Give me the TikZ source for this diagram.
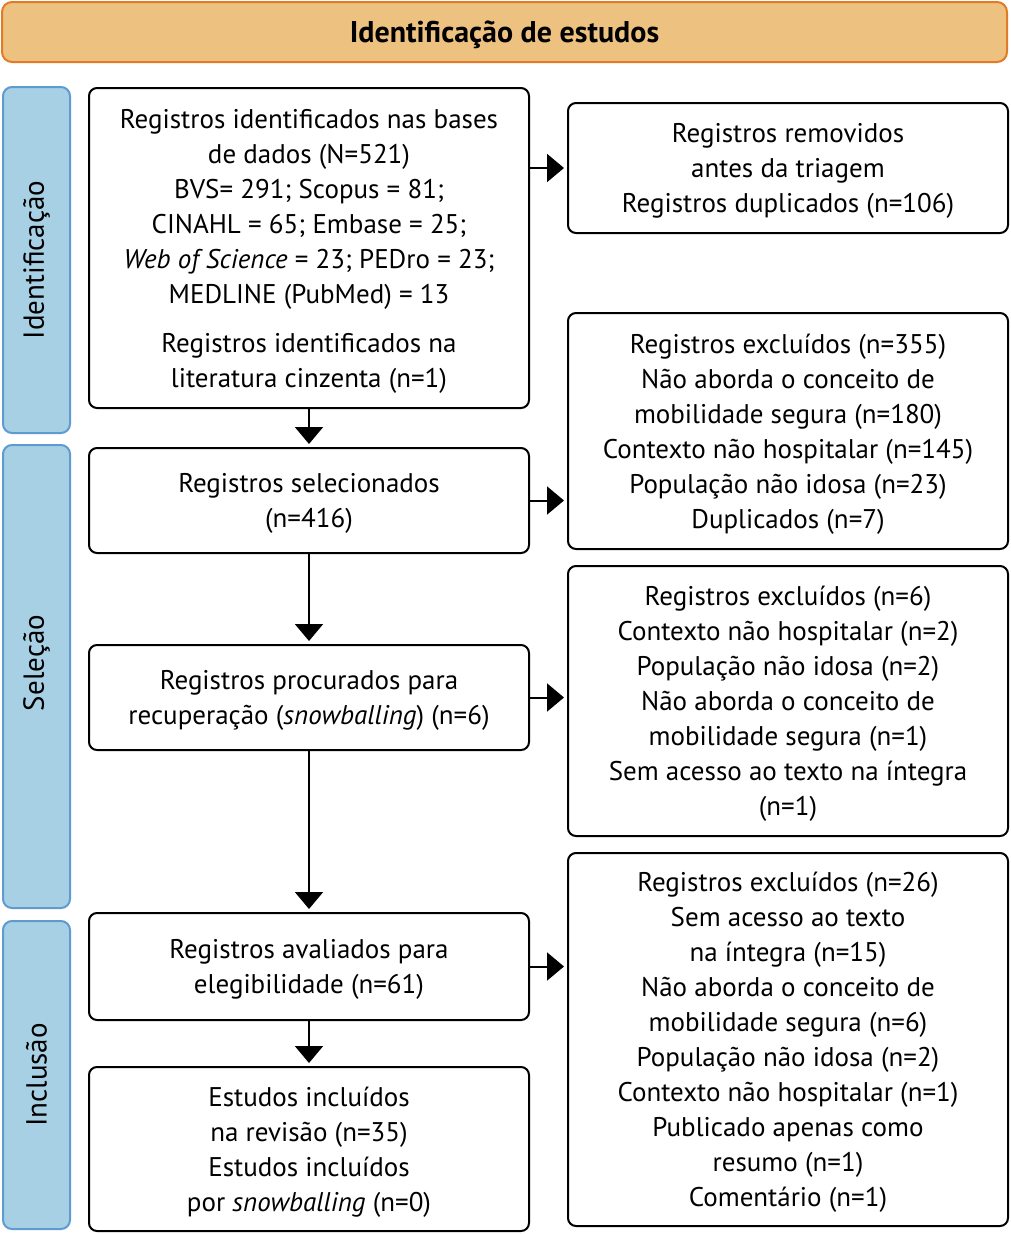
\documentclass[tikz,border=0pt]{standalone}
\usepackage{fontspec}
\setmainfont{PT Sans}
\usetikzlibrary{arrows.meta}
\definecolor{hdrfill}{HTML}{EDC17F}
\definecolor{hdrdraw}{HTML}{E27A26}
\definecolor{sidefill}{HTML}{A8D0E5}
\definecolor{sidedraw}{HTML}{5E9BD0}
\tikzset{
  box/.style={draw=black, line width=2pt, rounded corners=8pt, fill=white, inner sep=0pt},
  txt/.style={align=center, inner sep=0pt, font=\fontsize{27}{35}\selectfont, yshift=-3pt},
  side/.style={draw=sidedraw, fill=sidefill, line width=2pt, rounded corners=9pt, inner sep=0pt},
  sidelbl/.style={rotate=90, font=\fontsize{29}{30}\selectfont},
  arr/.style={line width=2pt, -{Triangle[width=28pt,length=17pt]}, shorten >=3pt}
}
\begin{document}
\begin{tikzpicture}[x=1pt,y=-1pt]
\useasboundingbox (0,0) rectangle (1010,1234);
% header
\node[draw=hdrdraw, fill=hdrfill, line width=2pt, rounded corners=10pt, minimum width=1005pt, minimum height=60pt,
  inner sep=0pt] (hdr) at (504.5,32) {};
\node[inner sep=0pt, font=\fontsize{30}{30}\selectfont\bfseries] (hdrt) at ([yshift=-3pt]hdr.center) {Identificação de estudos};
% side bars
\node[side, minimum width=67pt, minimum height=346pt] (s1) at (36.5,260) {};
\node[sidelbl] (s1l) at (s1.center) {Identificação};
\node[side, minimum width=67pt, minimum height=463pt] (s2) at (36.5,676.5) {};
\node[sidelbl] (s2l) at (36.5,663) {Seleção};
\node[side, minimum width=67pt, minimum height=308pt] (s3) at (36.5,1075) {};
\node[sidelbl] (s3l) at (s3.center) {Inclusão};
% left boxes
\node[box, minimum width=440pt, minimum height=320pt] (b1) at (309,248) {};
\node[txt] (t1) at (b1.center) {Registros identificados nas bases\\de dados (N=521)\\BVS= 291; Scopus = 81;\\CINAHL = 65; Embase = 25;\\\textit{Web of Science} = 23; PEDro = 23;\\MEDLINE (PubMed) = 13\\[14pt]Registros identificados na\\literatura cinzenta (n=1)};
\node[box, minimum width=440pt, minimum height=105pt] (b2) at (309,500.5) {};
\node[txt] (t2) at (b2.center) {Registros selecionados\\(n=416)};
\node[box, minimum width=440pt, minimum height=105pt] (b3) at (309,697.5) {};
\node[txt] (t3) at (b3.center) {Registros procurados para\\recuperação (\textit{snowballing}) (n=6)};
\node[box, minimum width=440pt, minimum height=107pt] (b4) at (309,966.5) {};
\node[txt] (t4) at (b4.center) {Registros avaliados para\\elegibilidade (n=61)};
\node[box, minimum width=440pt, minimum height=164pt] (b5) at (309,1149) {};
\node[txt] (t5) at (b5.center) {Estudos incluídos\\na revisão (n=35)\\Estudos incluídos\\por \textit{snowballing} (n=0)};
% right boxes
\node[box, minimum width=440pt, minimum height=130pt] (r1) at (788,168) {};
\node[txt] (u1) at (r1.center) {Registros removidos\\antes da triagem\\Registros duplicados (n=106)};
\node[box, minimum width=440pt, minimum height=236pt] (r2) at (788,431) {};
\node[txt] (u2) at (r2.center) {Registros excluídos (n=355)\\Não aborda o conceito de\\mobilidade segura (n=180)\\Contexto não hospitalar (n=145)\\População não idosa (n=23)\\Duplicados (n=7)};
\node[box, minimum width=440pt, minimum height=270pt] (r3) at (788,701) {};
\node[txt] (u3) at (r3.center) {Registros excluídos (n=6)\\Contexto não hospitalar (n=2)\\População não idosa (n=2)\\Não aborda o conceito de\\mobilidade segura (n=1)\\Sem acesso ao texto na íntegra\\(n=1)};
\node[box, minimum width=440pt, minimum height=373pt] (r4) at (788,1039.5) {};
\node[txt] (u4) at (r4.center) {Registros excluídos (n=26)\\Sem acesso ao texto\\na íntegra (n=15)\\Não aborda o conceito de\\mobilidade segura (n=6)\\População não idosa (n=2)\\Contexto não hospitalar (n=1)\\Publicado apenas como\\resumo (n=1)\\Comentário (n=1)};
% arrows
\draw[arr] (b1.south) -- (b2.north);
\draw[arr] (b2.south) -- (b3.north);
\draw[arr] (b3.south) -- (b4.north);
\draw[arr] (b4.south) -- (b5.north);
\draw[arr] (b1.east |- r1.west) -- (r1.west);
\draw[arr] (b2.east) -- (r2.west |- b2.east);
\draw[arr] (b3.east) -- (r3.west |- b3.east);
\draw[arr] (b4.east) -- (r4.west |- b4.east);
\end{tikzpicture}
\end{document}
